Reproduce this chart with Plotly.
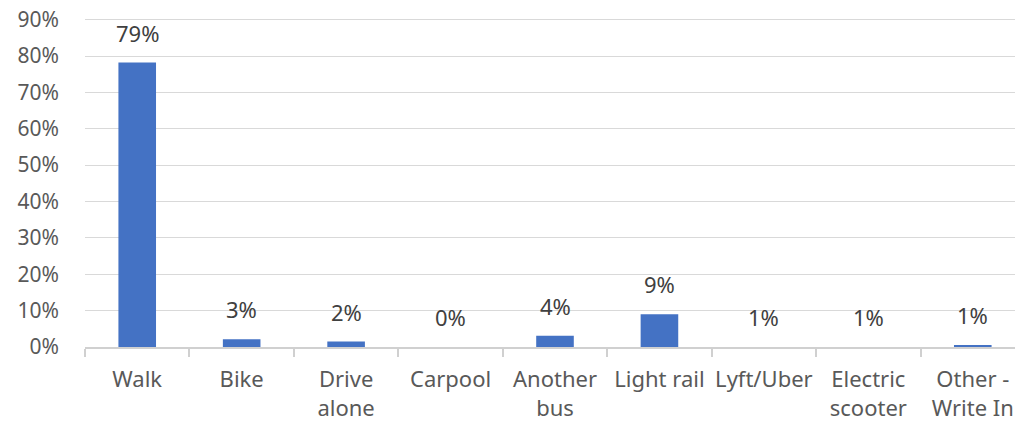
import plotly.graph_objects as go

categories = ["Walk", "Bike", "Drive<br>alone", "Carpool", "Another<br>bus", "Light rail",
              "Lyft/Uber", "Electric<br>scooter", "Other -<br>Write In"]
values = [78.2, 2.1, 1.5, 0.0, 3.1, 9.0, 0.0, 0.0, 0.5]
labels = ["79%", "3%", "2%", "0%", "4%", "9%", "1%", "1%", "1%"]
yticks = [0, 10, 20, 30, 40, 50, 60, 70, 80, 90]
ytick_text = [f"{v}%" for v in yticks]

FONT = "Noto Sans"
GREY = "#595959"

fig = go.Figure()
fig.add_trace(go.Bar(x=categories, y=values, marker=dict(color="#4472C4", line=dict(width=0)),
                     hoverinfo="skip"))

for c, v, t in zip(categories, values, labels):
    fig.add_annotation(x=c, y=v, text=t, showarrow=False, yanchor="bottom", yshift=13,
                       font=dict(family=FONT, size=22, color="#404040"))

fig.update_layout(
    width=1023, height=427,
    margin=dict(l=77, r=6, t=8, b=88, autoexpand=False),
    paper_bgcolor="white", plot_bgcolor="white",
    bargap=0.64,
    showlegend=False,
    font=dict(family=FONT, size=22, color=GREY),
)
fig.update_yaxes(range=[0, 91], tickvals=yticks, ticktext=ytick_text, automargin=False,
                 showgrid=True, gridcolor="#d9d9d9", gridwidth=1.3, zeroline=False,
                 showline=False, ticks="", ticklabelstandoff=25, ticklabeloverflow="allow",
                 tickfont=dict(family=FONT, size=21, color=GREY))
fig.update_xaxes(showline=True, linecolor="#d0d0d0", linewidth=1.5, automargin=False,
                 ticks="outside", tickson="boundaries", ticklen=8, tickcolor="#d0d0d0",
                 tickwidth=1.5, ticklabelstandoff=12,
                 tickfont=dict(family=FONT, size=22, color=GREY), tickangle=0)

fig.write_html("out.html")
